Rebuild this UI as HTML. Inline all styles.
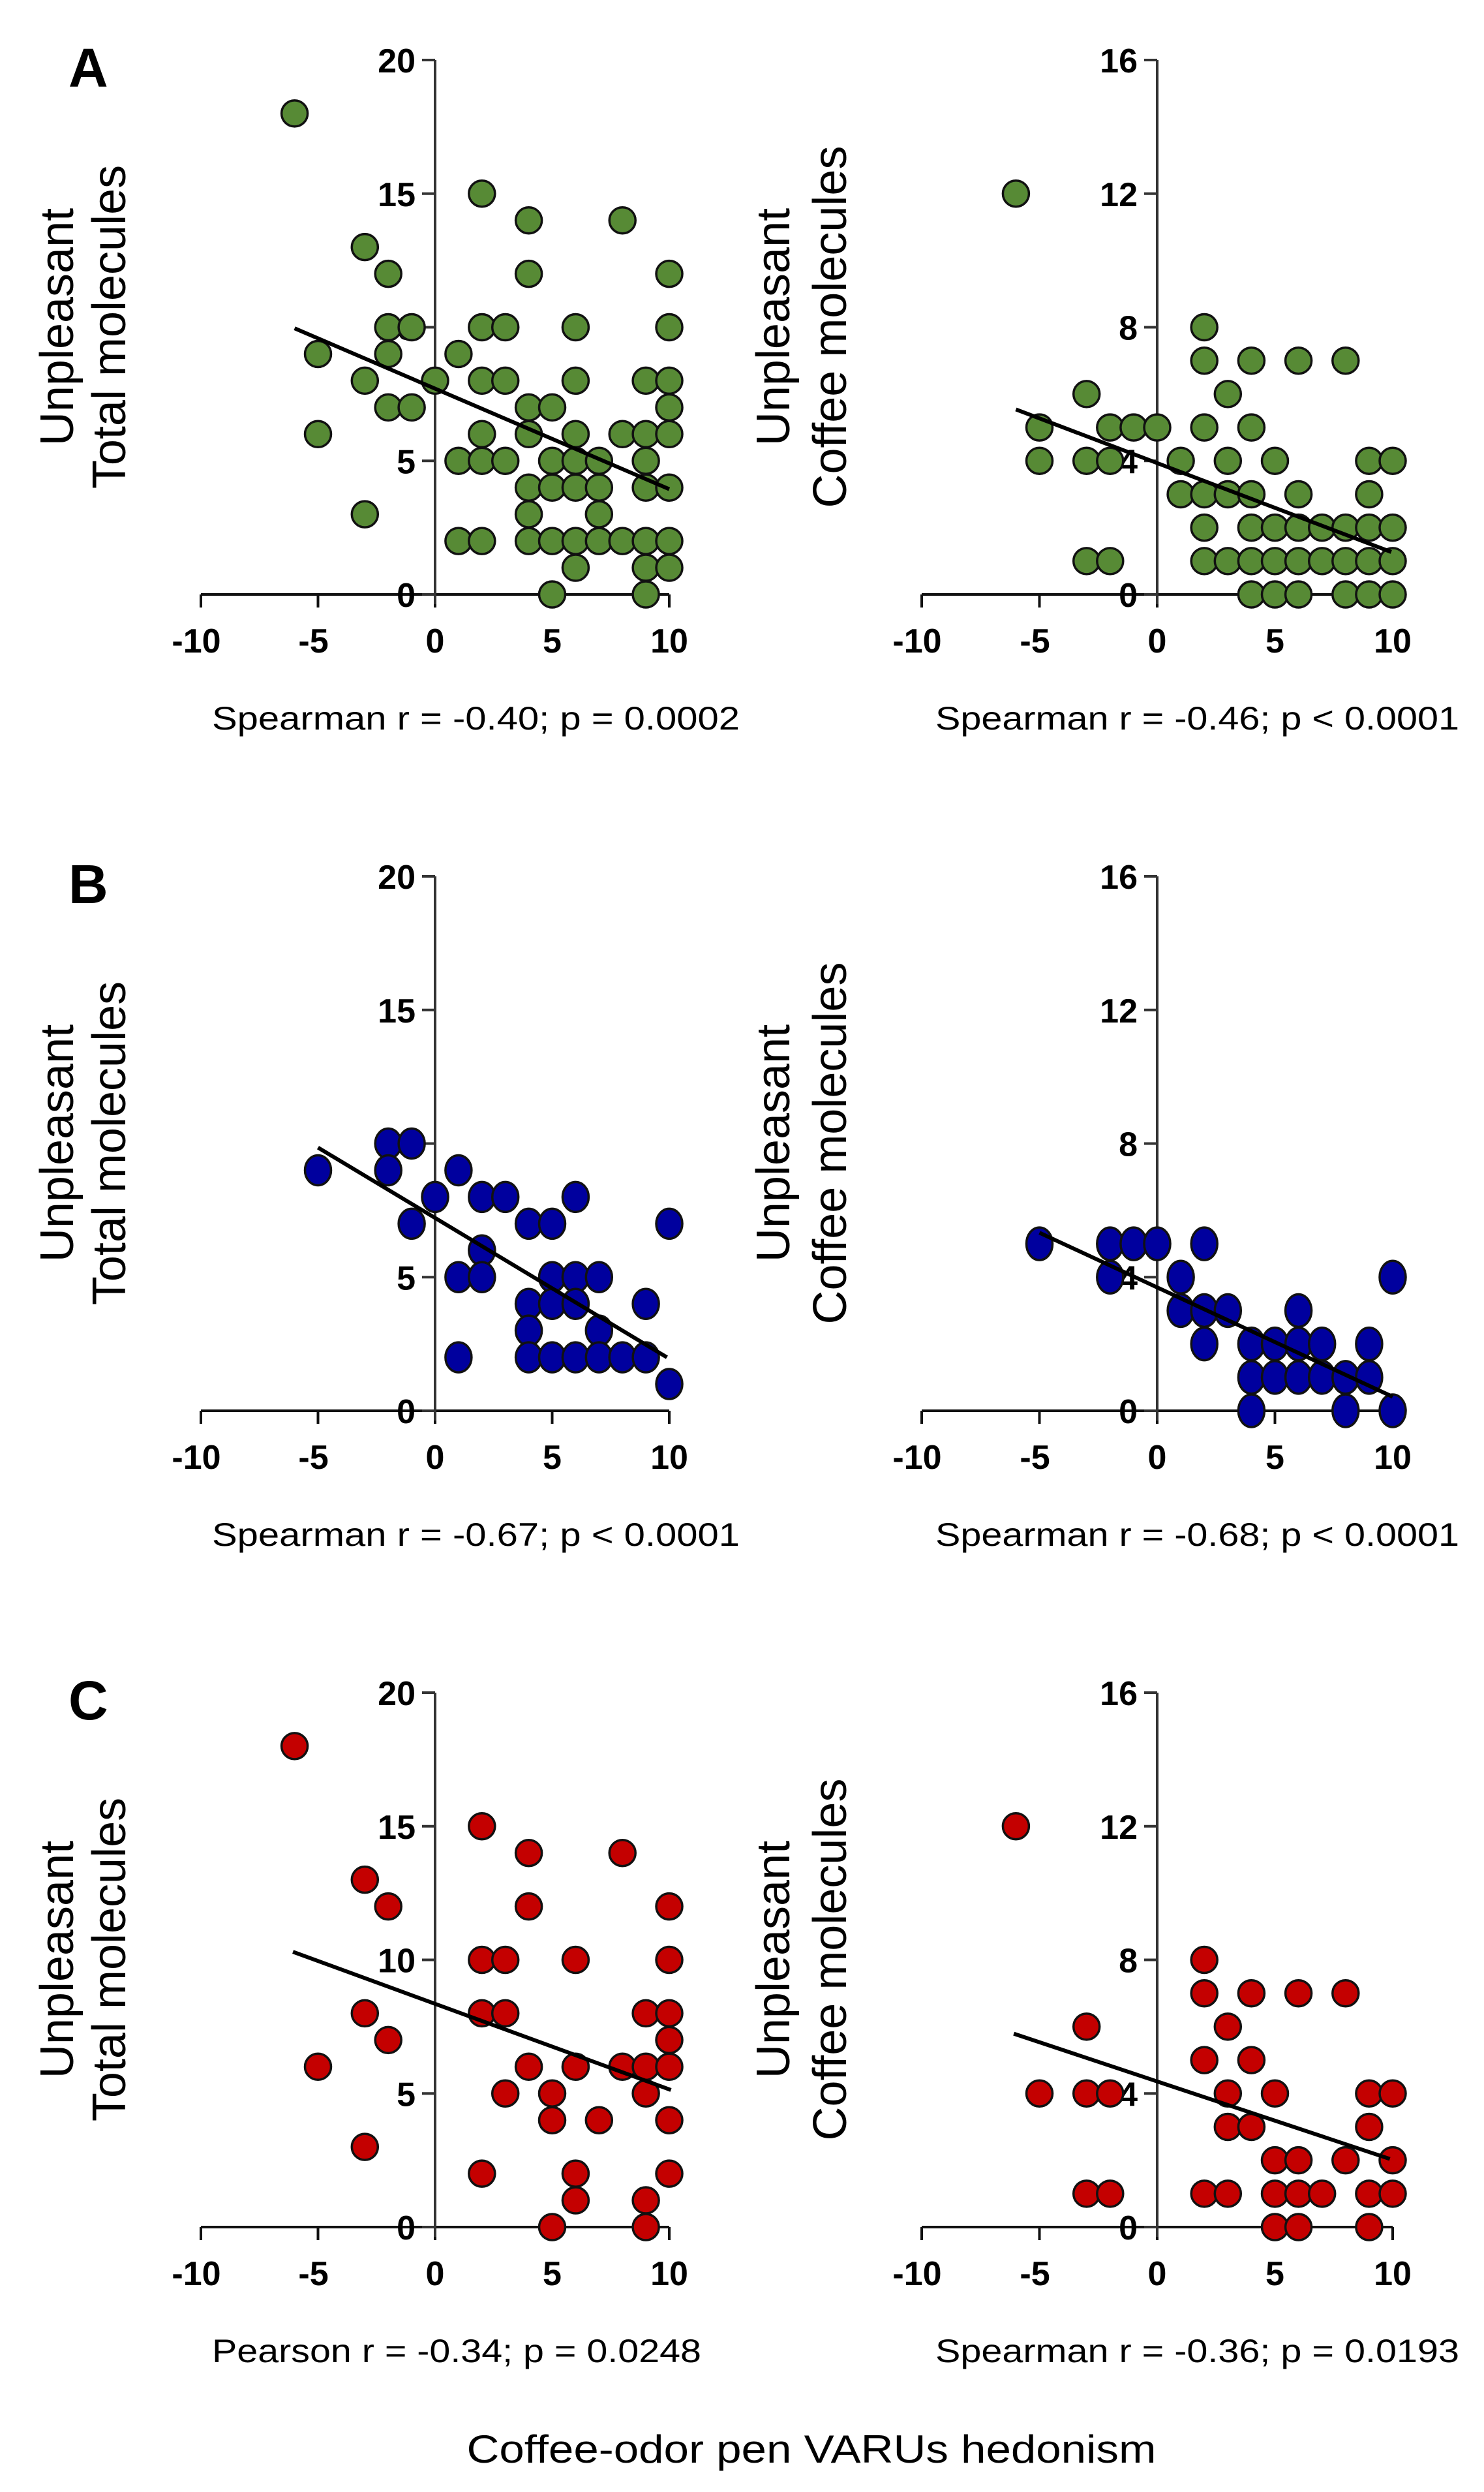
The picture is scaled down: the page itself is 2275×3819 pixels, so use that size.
<!DOCTYPE html>
<html><head><meta charset="utf-8">
<style>
html,body{margin:0;padding:0;background:#fff;}
svg{display:block;}
text{font-family:"Liberation Sans",Arial,sans-serif;fill:#000;}
</style></head>
<body>
<svg id="fig" xmlns="http://www.w3.org/2000/svg" width="2275" height="3819" viewBox="0 0 2275 3819">
<rect width="2275" height="3819" fill="#fff"/>
<text x="105" y="133" font-size="84" font-weight="bold">A</text>
<text x="105" y="1384" font-size="84" font-weight="bold">B</text>
<text x="105" y="2635" font-size="84" font-weight="bold">C</text>
<text x="1244" y="3774" font-size="60" text-anchor="middle" textLength="1057" lengthAdjust="spacingAndGlyphs">Coffee-odor pen VARUs hedonism</text>
</svg>
<script>
// ---- data (hedonism x, molecules y) ----
const xTicks = [-10, -5, 0, 5, 10];
const yTicksTotal = [0, 5, 10, 15, 20];
const yTicksCoffee = [0, 4, 8, 12, 16];

const aTotalX = [-6,2,4,8,-3,-2,4,10,-2,-1,2,3,6,10,-5,-2,1,-3,0,2,3,6,9,10,-2,-1,4,5,10,-5,2,4,6,8,9,10,1,2,3,5,6,7,9,4,5,6,7,9,10,-3,4,7,1,2,4,5,6,7,8,9,10,6,9,10,5,9];
const aTotalY = [18,15,14,14,13,12,12,12,10,10,10,10,10,10,9,9,9,8,8,8,8,8,8,8,7,7,7,7,7,6,6,6,6,6,6,6,5,5,5,5,5,5,5,4,4,4,4,4,4,3,3,3,2,2,2,2,2,2,2,2,2,1,1,1,0,0];
const aTotalFit = [[-6, 9.96], [10, 3.94]];

const aCoffeeX = [-6,2,2,4,6,8,-3,3,-5,-2,-1,0,2,4,-5,-3,-2,1,3,5,9,10,1,2,3,4,6,9,2,4,5,6,7,8,9,10,-3,-2,2,3,4,5,6,7,8,9,10,4,5,6,8,9,10];
const aCoffeeY = [12,8,7,7,7,7,6,6,5,5,5,5,5,5,4,4,4,4,4,4,4,4,3,3,3,3,3,3,2,2,2,2,2,2,2,2,1,1,1,1,1,1,1,1,1,1,1,0,0,0,0,0,0];
const aCoffeeFit = [[-6, 5.54], [9.94, 1.27]];

const bTotalX = [-2,-1,-5,-2,1,0,2,3,6,-1,4,5,10,2,1,2,5,6,7,4,5,6,9,4,7,1,4,5,6,7,8,9,10];
const bTotalY = [10,10,9,9,9,8,8,8,8,7,7,7,7,6,5,5,5,5,5,4,4,4,4,3,3,2,2,2,2,2,2,2,1];
const bTotalFit = [[-5, 9.85], [9.9, 2.0]];

const bCoffeeX = [-5,-2,-1,0,2,-2,1,10,1,2,3,6,2,4,5,6,7,9,4,5,6,7,8,9,4,8,10];
const bCoffeeY = [5,5,5,5,5,4,4,4,3,3,3,3,2,2,2,2,2,2,1,1,1,1,1,1,0,0,0];
const bCoffeeFit = [[-5, 5.33], [10, 0.42]];

const cTotalX = [-6,2,4,8,-3,-2,4,10,2,3,6,10,-3,2,3,9,10,-2,10,-5,4,6,8,9,10,3,5,9,5,7,10,-3,2,6,10,6,9,5,9];
const cTotalY = [18,15,14,14,13,12,12,12,10,10,10,10,8,8,8,8,8,7,7,6,6,6,6,6,6,5,5,5,4,4,4,3,2,2,2,1,1,0,0];
const cTotalFit = [[-6.07, 10.3], [10.07, 5.13]];

const cCoffeeX = [-6,2,2,4,6,8,-3,3,2,4,-5,-3,-2,3,5,9,10,3,4,9,5,6,8,10,-3,-2,2,3,5,6,7,9,10,5,6,9];
const cCoffeeY = [12,8,7,7,7,7,6,6,5,5,4,4,4,4,4,4,4,3,3,3,2,2,2,2,1,1,1,1,1,1,1,1,1,0,0,0];
const cCoffeeFit = [[-6.09, 5.79], [9.88, 2.04]];

const statsLabels = [
  "Spearman r = -0.40; p = 0.0002", "Spearman r = -0.46; p < 0.0001",
  "Spearman r = -0.67; p < 0.0001", "Spearman r = -0.68; p < 0.0001",
  "Pearson r = -0.34; p = 0.0248", "Spearman r = -0.36; p = 0.0193"
];

// ---- layout ----
const NS = "http://www.w3.org/2000/svg";
const svg = document.getElementById('fig');
function mk(tag, attrs, parent) {
  const e = document.createElementNS(NS, tag);
  for (const k in attrs) e.setAttribute(k, attrs[k]);
  (parent || svg).appendChild(e);
  return e;
}
const rowY0 = [911, 2162, 3413];
const colGeom = [
  {xl: 308, xr: 1026, title2: "Total molecules", t1x: 112, t2x: 192, yMax: 20, ticks: yTicksTotal, sx: 325, sw: 809},
  {xl: 1413, xr: 2135, title2: "Coffee molecules", t1x: 1210, t2x: 1297, yMax: 16, ticks: yTicksCoffee, sx: 1434, sw: 803}
];
const panels = [
  {row: 0, col: 0, xs: aTotalX, ys: aTotalY, fit: aTotalFit, color: "#578a35", ry: 20, name: "a-total"},
  {row: 0, col: 1, xs: aCoffeeX, ys: aCoffeeY, fit: aCoffeeFit, color: "#578a35", ry: 20, name: "a-coffee"},
  {row: 1, col: 0, xs: bTotalX, ys: bTotalY, fit: bTotalFit, color: "#00009e", ry: 23, name: "b-total"},
  {row: 1, col: 1, xs: bCoffeeX, ys: bCoffeeY, fit: bCoffeeFit, color: "#00009e", ry: 25, name: "b-coffee"},
  {row: 2, col: 0, xs: cTotalX, ys: cTotalY, fit: cTotalFit, color: "#c40000", ry: 20, name: "c-total"},
  {row: 2, col: 1, xs: cCoffeeX, ys: cCoffeeY, fit: cCoffeeFit, color: "#c40000", ry: 20, name: "c-coffee"}
];

panels.forEach((p, i) => {
  const g = colGeom[p.col];
  const y0 = rowY0[p.row];
  const yTop = y0 - 819;
  const xS = v => g.xl + (v + 10) / 20 * (g.xr - g.xl);
  const yS = v => y0 - v / g.yMax * 819;
  const ax0 = xS(0);
  const grp = mk('g', {});
  
  

  const xa = mk('line', {x1: xS(-10), x2: xS(10), y1: y0, y2: y0, stroke: "#111", "stroke-width": 4}, grp);
  
  
  xTicks.forEach(t => {
    const tk = mk('line', {x1: xS(t), x2: xS(t), y1: y0, y2: y0 + 20, stroke: "#111", "stroke-width": 4}, grp);
    
    
    const tl = mk('text', {x: xS(t) - (t < 0 ? 7 : 0), y: y0 + 89, "font-size": 52, "font-weight": "bold", "text-anchor": "middle"}, grp);
    tl.textContent = String(t);
    
    
  });
  const ya = mk('line', {x1: ax0, x2: ax0, y1: yTop, y2: y0 + 15, stroke: "#333", "stroke-width": 4}, grp);
  
  
  g.ticks.forEach(t => {
    const tk = mk('line', {x1: ax0 - 20, x2: ax0, y1: yS(t), y2: yS(t), stroke: "#333", "stroke-width": 4}, grp);
    
    
    const tl = mk('text', {x: ax0 - 30, y: yS(t) + 19, "font-size": 52, "font-weight": "bold", "text-anchor": "end"}, grp);
    tl.textContent = String(t);
    
    
  });
  const cy = y0 - 410;
  const t1 = mk('text', {x: g.t1x, y: cy, "font-size": 72, "text-anchor": "middle", transform: `rotate(-90 ${g.t1x} ${cy})`}, grp);
  t1.textContent = "Unpleasant";
  
  
  const t2 = mk('text', {x: g.t2x, y: cy, "font-size": 72, "text-anchor": "middle", transform: `rotate(-90 ${g.t2x} ${cy})`}, grp);
  t2.textContent = g.title2;
  
  

  p.xs.forEach((xv, j) => {
    const c = mk('ellipse', {cx: xS(xv), cy: yS(p.ys[j]), rx: 20, ry: p.ry, fill: p.color, stroke: "#111", "stroke-width": 3.5}, grp);
    
    
  });
  const fl = mk('line', {x1: xS(p.fit[0][0]), y1: yS(p.fit[0][1]), x2: xS(p.fit[1][0]), y2: yS(p.fit[1][1]), stroke: "#000", "stroke-width": 6}, grp);
  
  

  const isPearson = statsLabels[i].startsWith("Pearson");
  const st = mk('text', {x: g.sx, y: y0 + 207, "font-size": 50, textLength: isPearson ? 750 : g.sw, lengthAdjust: "spacingAndGlyphs"}, grp);
  st.textContent = statsLabels[i];
  
  
});
</script>
</body></html>
